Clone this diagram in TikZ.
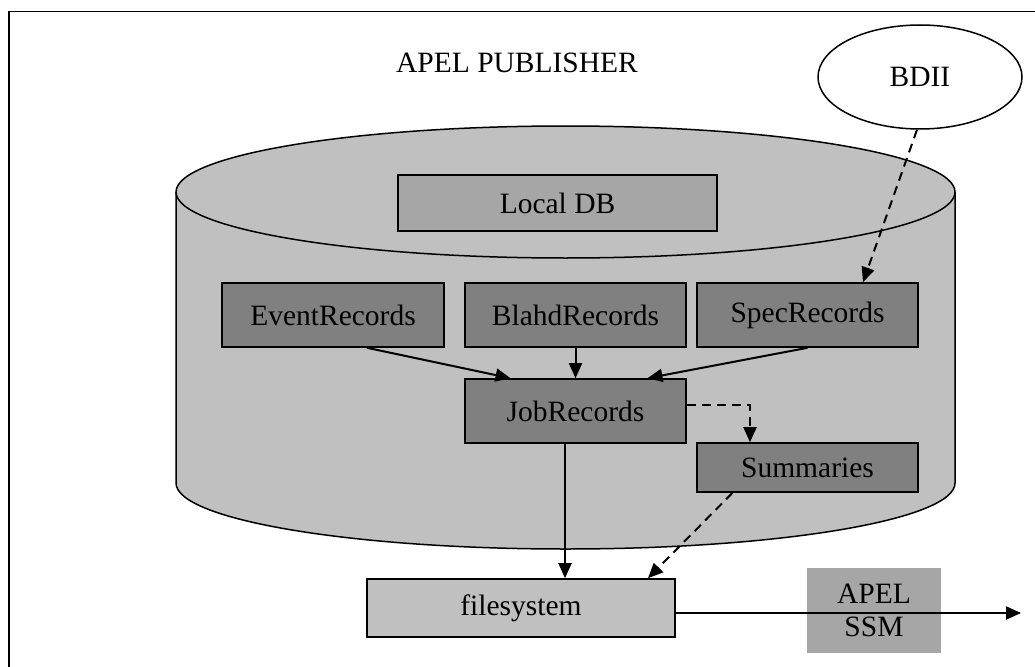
\documentclass[tikz,border=0pt]{standalone}
\usepackage{fontspec}
\setmainfont{Liberation Serif}
\usepackage{tikz}
\usetikzlibrary{calc,arrows.meta,shapes.geometric}
\definecolor{cylgray}{HTML}{C0C0C0}
\definecolor{dbgray}{HTML}{A6A6A6}
\definecolor{recgray}{HTML}{808080}
\begin{document}
\begin{tikzpicture}[x=1pt,y=-1pt,
    font=\fontsize{29.5}{33}\selectfont,
    box/.style={draw, line width=1.6pt, inner sep=0pt, minimum height=64pt},
    rec/.style={box, fill=recgray, minimum width=221pt},
    flow/.style={line width=2pt, -{Triangle[length=15pt,width=13pt]}},
    flowdash/.style={flow, dash pattern=on 9pt off 6pt}]
      \useasboundingbox (0,0) rectangle (1035,666);
      \draw [line width=1.6pt] (8.7,670) -- (8.7,11.7) -- (1040,11.7);
      \node (title) at (517,63) {APEL PUBLISHER};
      \node [ellipse, draw, line width=1.5pt, minimum width=204pt, minimum height=104pt, inner sep=0pt] (bdii) at (920,77) {BDII};
      \filldraw [fill=cylgray, line width=1.5pt] (176,192) -- (176,483)
            arc [start angle=180, end angle=360, x radius=389.5pt, y radius=66pt]
            -- (955,192)
            arc [start angle=0, end angle=180, x radius=389.5pt, y radius=66pt] -- cycle;
      \draw [line width=1.5pt] (176,192) arc [start angle=180, end angle=360, x radius=389.5pt, y radius=66pt];
      \node [box, fill=dbgray, minimum width=319pt, minimum height=56pt] (localdb) at (557.5,203) {Local DB};
      \node [rec, minimum width=222pt] (event) at (333,315) {EventRecords};
      \node [rec] (blahd) at (575.5,315) {BlahdRecords};
      \node [rec] (spec) at (807.5,315) {SpecRecords};
      \node [rec] (job) at (575.5,411) {JobRecords};
      \node [rec, minimum height=49pt] (summ) at (807.5,467.5) {Summaries};
      \node [box, fill=cylgray, minimum width=308pt, minimum height=58pt] (fs) at (521,608) {filesystem};
      \node [fill=dbgray, minimum width=134pt, minimum height=85pt, inner sep=0pt, align=center] (ssm) at (874,610.5) {APEL\\SSM};
      \coordinate (out) at (1021,613);
      \draw [flow] ([xshift=34pt]event.south) -- ([xshift=-65pt]job.north);
      \draw [flow] (blahd.south) -- (job.north);
      \draw [flow] (spec.south) -- ([xshift=72pt]job.north);
      \draw [flowdash] ([yshift=6pt]job.east) -| ([xshift=-57.5pt]summ.north);
      \draw [flowdash] ([xshift=-3pt]bdii.south) -- ([xshift=55.5pt]spec.north);
      \draw [flow] ([xshift=-10.5pt]job.south) -- ([xshift=44pt]fs.north);
      \draw [flowdash] ([xshift=-75pt]summ.south) -- ([xshift=127pt]fs.north);
      \draw [flow] ([yshift=-5pt]fs.east) -- (out);
\end{tikzpicture}
\end{document}
